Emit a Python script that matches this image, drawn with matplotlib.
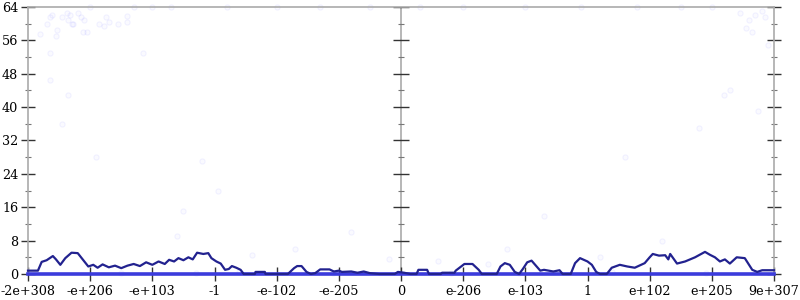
import numpy as np
import matplotlib.pyplot as plt

plt.rcParams["font.family"] = ["DejaVu Serif"]

# x axis is an ordinal scale over doubles: 12 equal steps between the labels
tick_labels = ["-2e+308", "-e+206", "-e+103", "-1", "-e-102", "-e-205", "0",
               "e-206", "e-103", "1", "e+102", "e+205", "9e+307"]

# averaged error line (ordinal position, bits of error)
line_x = [0.00, 0.16, 0.22, 0.30, 0.40, 0.45, 0.52, 0.60, 0.70, 0.80, 0.88, 0.97,
          1.05, 1.12, 1.20, 1.30, 1.40, 1.50, 1.60, 1.70, 1.80, 1.90, 2.00, 2.10,
          2.20, 2.27, 2.35, 2.42, 2.50, 2.58, 2.65, 2.72, 2.82, 2.90, 2.95, 3.03,
          3.10, 3.17, 3.23, 3.28, 3.35, 3.42, 3.47, 3.65, 3.66, 3.81, 3.82, 4.18,
          4.28, 4.33, 4.40, 4.48, 4.55, 4.62, 4.70, 4.85, 4.92, 5.00, 5.05, 5.20,
          5.30, 5.40, 5.50, 5.65, 5.90, 5.95, 6.05, 6.15, 6.25, 6.28, 6.42, 6.45,
          6.64, 6.66, 6.86, 6.88, 6.95, 7.02, 7.15, 7.25, 7.30, 7.54, 7.60, 7.67,
          7.75, 7.83, 7.90, 7.96, 8.03, 8.10, 8.17, 8.24, 8.30, 8.45, 8.55, 8.60,
          8.73, 8.80, 8.88, 9.00, 9.07, 9.14, 9.20, 9.31, 9.39, 9.52, 9.64, 9.76,
          9.92, 10.00, 10.05, 10.15, 10.25, 10.30, 10.33, 10.44, 10.57, 10.65,
          10.73, 10.89, 10.97, 11.05, 11.13, 11.21, 11.29, 11.40, 11.53, 11.65,
          11.73, 11.81, 12.00]
line_y = [0.8, 0.8, 2.9, 3.3, 4.3, 3.5, 2.2, 3.8, 5.1, 5.0, 3.5, 1.8,
          2.2, 1.5, 2.3, 1.6, 2.0, 1.4, 2.0, 2.4, 1.9, 2.8, 2.2, 3.0,
          2.4, 3.4, 3.0, 3.8, 3.3, 4.0, 3.5, 5.1, 4.8, 5.0, 3.8, 3.0,
          2.5, 1.0, 1.2, 1.9, 1.5, 1.0, 0.0, 0.0, 0.5, 0.5, 0.0, 0.0,
          1.4, 1.9, 1.9, 0.5, 0.0, 0.2, 1.1, 1.1, 0.6, 0.8, 0.5, 0.6,
          0.3, 0.6, 0.2, 0.0, 0.0, 0.5, 0.3, 0.0, 0.0, 1.0, 1.0, 0.0,
          0.0, 0.3, 0.3, 0.8, 1.6, 2.4, 2.4, 1.0, 0.0, 0.0, 1.8, 2.6,
          2.2, 0.5, 0.0, 1.2, 2.8, 3.2, 2.0, 0.8, 1.0, 0.6, 0.9, 0.0,
          0.0, 2.6, 3.8, 3.0, 2.2, 0.5, 0.0, 0.0, 1.5, 2.2, 1.8, 1.5,
          2.6, 4.0, 4.8, 4.4, 4.5, 3.5, 4.8, 2.5, 3.0, 3.5,
          4.0, 5.3, 4.6, 4.0, 3.0, 3.5, 2.5, 4.0, 3.8, 1.0,
          0.5, 0.9, 0.9]

# individual sample errors (faint points)
pts_x = [0.19, 0.30, 0.35, 0.38, 0.45, 0.47, 0.55, 0.62, 0.65, 0.68, 0.70, 0.72,
         0.80, 0.85, 0.88, 0.90, 0.95, 1.15, 1.22, 1.30, 1.25, 1.45, 1.60, 1.60,
         1.85, 0.35, 0.35, 0.65, 0.55, 1.10, 2.40, 2.50, 2.80, 3.05, 3.60, 4.30,
         5.20, 5.80, 6.60, 7.40, 7.70, 8.30, 9.20, 9.60, 10.20, 10.80, 11.30,
         11.45, 11.60, 11.70, 11.80, 11.85, 11.90, 11.55, 11.65, 11.20, 11.75,
         1.00, 1.70, 2.00, 2.30, 3.20, 4.00, 4.70, 5.50, 6.30, 7.00, 8.00, 8.90,
         9.80, 10.50, 11.00, 1.50, 2.70, 3.40, 4.90, 6.80, 7.90, 9.40, 10.90]
pts_y = [57.5, 60.0, 61.5, 62.0, 57.0, 58.5, 61.5, 62.5, 61.0, 62.0, 60.0, 60.0,
         62.5, 61.5, 58.0, 60.8, 58.0, 60.0, 59.5, 60.5, 61.5, 60.0, 61.8, 60.5,
         53.0, 53.0, 46.5, 43.0, 36.0, 28.0, 9.0, 15.0, 27.0, 20.0, 4.5, 6.0,
         10.0, 3.5, 3.0, 2.5, 6.0, 14.0, 4.0, 28.0, 8.0, 35.0, 44.0,
         62.5, 61.0, 62.0, 63.0, 61.5, 55.0, 59.0, 58.0, 43.0, 39.0,
         64.0, 64.0, 64.0, 64.0, 64.0, 64.0, 64.0, 64.0, 64.0, 64.0, 64.0, 64.0,
         64.0, 64.0, 64.0, 0.3, 0.2, 0.4, 0.3, 0.2, 0.3, 0.4, 0.2]

fig = plt.figure(figsize=(8, 3), dpi=100)
ax = fig.add_axes([0.035, 0.0867, 0.9325, 0.89])

grey = "#aaaaaa"
ax.scatter(pts_x, pts_y, s=14, facecolor=(0, 0, 1, 0.02),
           edgecolor=(0, 0, 1, 0.05), linewidth=0.8, clip_on=False, zorder=2)
ax.axhline(0, color="#3b3bdc", linewidth=2.6, clip_on=False, zorder=3)
ax.plot(line_x, line_y, color="#22228f", linewidth=1.6, clip_on=False, zorder=4)

# middle axis at zero with its own ticks
ax.axvline(6, color=grey, linewidth=1.2, zorder=1)
ax.plot([6] * 9, range(0, 65, 8), linestyle="none", marker="_",
        markersize=11, color="#333333", markeredgewidth=1.0, zorder=1)
ax.plot([6] * 8, range(4, 64, 8), linestyle="none", marker="_",
        markersize=5, color="#777777", markeredgewidth=0.8, zorder=1)

ax.set_xlim(0, 12)
ax.set_ylim(0, 64)
ax.set_xticks(range(13))
ax.set_xticklabels(tick_labels)
ax.set_yticks(range(0, 65, 8))
ax.set_yticks(range(4, 64, 8), minor=True)

for side in ["left", "right", "top"]:
    ax.spines[side].set_color(grey)
    ax.spines[side].set_linewidth(1.2)
ax.spines["bottom"].set_visible(False)

ax.tick_params(axis="both", which="major", direction="inout", length=10,
               width=1.0, color="#333333", labelsize=9.2, pad=2)
ax.tick_params(axis="y", which="major", right=True)
ax.tick_params(axis="y", which="minor", direction="inout", length=5,
               width=0.8, color="#777777", right=True)
ax.tick_params(axis="x", which="major", pad=3)

fig.savefig("out.png", dpi=100)
